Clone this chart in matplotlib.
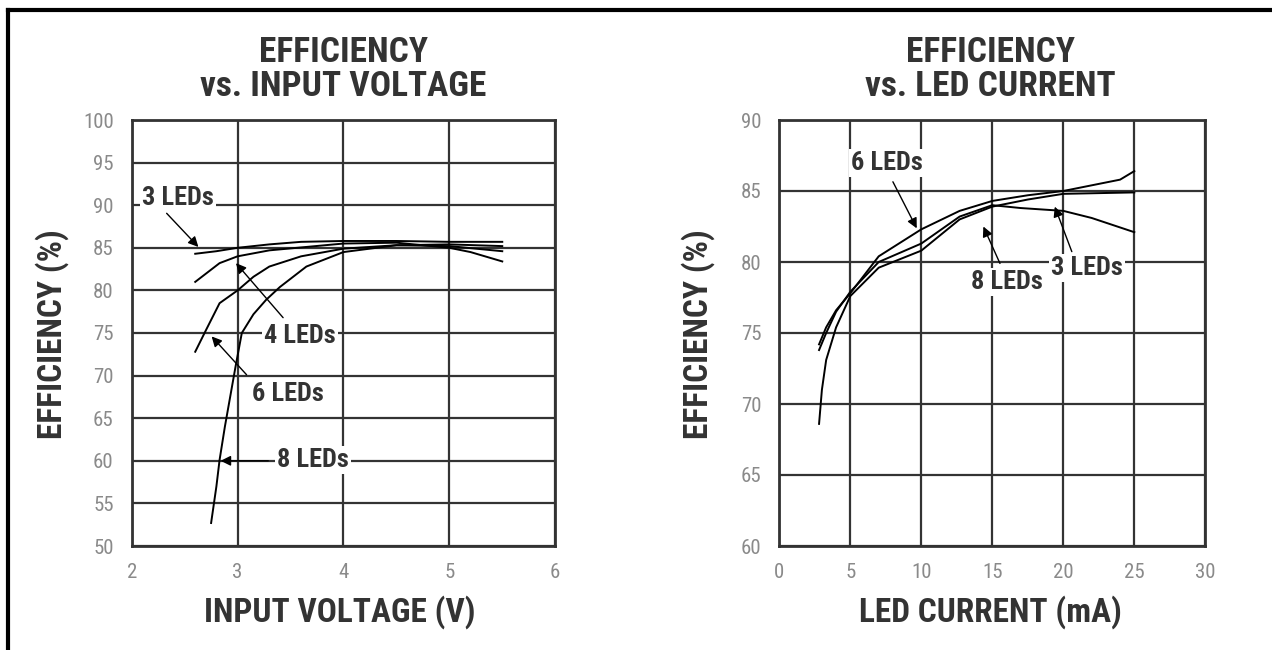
import matplotlib
matplotlib.use("Agg")
import matplotlib.pyplot as plt
from matplotlib import font_manager

# pick a condensed sans that is installed
installed = {f.name for f in font_manager.fontManager.ttflist}
candidates = ['Roboto Condensed', 'Archivo Narrow', 'PT Sans Narrow', 'Fira Sans Condensed',
              'IBM Plex Sans Condensed', 'Liberation Sans Narrow', 'Roboto']
narrow = next(c for c in candidates if c in installed)
plt.rcParams['font.family'] = [narrow, 'DejaVu Sans']

# efficiency vs input voltage (V, %)
vin_3led = [2.6, 2.8, 3.0, 3.3, 3.6, 4.0, 4.5, 5.0, 5.5]
eff_vin_3led = [84.3, 84.6, 85.0, 85.4, 85.7, 85.8, 85.8, 85.7, 85.7]
vin_4led = [2.6, 2.83, 3.0, 3.3, 3.65, 4.0, 4.5, 5.0, 5.2, 5.5]
eff_vin_4led = [81.0, 83.2, 84.0, 84.7, 85.1, 85.5, 85.6, 85.0, 84.5, 83.4]
vin_6led = [2.6, 2.7, 2.83, 3.0, 3.15, 3.3, 3.6, 4.0, 4.5, 5.0, 5.5]
eff_vin_6led = [72.8, 75.3, 78.5, 80.0, 81.6, 82.8, 84.0, 84.9, 85.3, 85.2, 84.6]
vin_8led = [2.75, 2.8, 2.83, 2.88, 2.93, 2.98, 3.04, 3.15, 3.27, 3.4, 3.65, 4.0, 4.5, 5.0, 5.5]
eff_vin_8led = [52.7, 57.0, 60.1, 64.0, 67.5, 71.0, 75.0, 77.2, 78.9, 80.4, 82.8, 84.5, 85.3, 85.4, 85.2]

# efficiency vs LED current (mA, %)
iled_3led = [2.8, 3.3, 4.0, 5.0, 7.0, 10.0, 12.7, 15.0, 17.0, 20.0, 22.0, 25.0]
eff_i_3led = [73.8, 75.0, 76.5, 77.9, 80.0, 81.3, 83.2, 84.0, 83.8, 83.6, 83.1, 82.1]
iled_6led = [2.8, 3.3, 4.0, 5.0, 7.0, 10.0, 12.7, 15.0, 17.5, 20.0, 22.5, 24.0, 25.0]
eff_i_6led = [74.2, 75.4, 76.6, 77.8, 80.4, 82.3, 83.6, 84.3, 84.7, 85.0, 85.5, 85.8, 86.4]
iled_8led = [2.8, 3.0, 3.3, 4.0, 5.0, 7.0, 10.0, 12.7, 15.0, 17.5, 20.0, 25.0]
eff_i_8led = [68.6, 71.0, 73.1, 75.4, 77.6, 79.6, 80.8, 83.0, 83.9, 84.4, 84.8, 84.9]

vin_ticks = [2, 3, 4, 5, 6]
eff_vin_ticks = list(range(50, 101, 5))
iled_ticks = [0, 5, 10, 15, 20, 25, 30]
eff_i_ticks = list(range(60, 91, 5))

W, H = 1272, 650
fig = plt.figure(figsize=(W / 100, H / 100), dpi=100)

# page border (top and left only)
fig.add_artist(plt.Line2D([8 / W, 1], [1 - 10 / H, 1 - 10 / H], color='black', lw=3))
fig.add_artist(plt.Line2D([8 / W, 8 / W], [0, 1 - 10 / H], color='black', lw=3))

ax1 = fig.add_axes([131.7 / W, 1 - 546 / H, 423.5 / W, 426 / H])
ax2 = fig.add_axes([779.3 / W, 1 - 546 / H, 426 / W, 426 / H])

text_kw = dict(fontsize=19, fontweight='bold', color='#333333', ha='center', va='center',
               bbox=dict(facecolor='white', edgecolor='none', pad=1.5), zorder=5)
arrow_kw = dict(arrowstyle='-|>', lw=1.0, color='black', mutation_scale=15, shrinkA=0, shrinkB=0)


def style(ax, xt, yt):
    ax.set_xlim(xt[0], xt[-1])
    ax.set_ylim(yt[0], yt[-1])
    ax.set_xticks(xt)
    ax.set_yticks(yt)
    ax.grid(True, color='#333333', lw=1.6)
    ax.set_axisbelow(True)
    for s in ax.spines.values():
        s.set_color('#333333')
        s.set_linewidth(2)
    ax.tick_params(length=0, labelsize=15, labelcolor='#8a8a8a')
    ax.tick_params(axis='y', pad=13)
    ax.tick_params(axis='x', pad=12)


style(ax1, vin_ticks, eff_vin_ticks)
style(ax2, iled_ticks, eff_i_ticks)

for x, y in [(vin_3led, eff_vin_3led), (vin_4led, eff_vin_4led),
             (vin_6led, eff_vin_6led), (vin_8led, eff_vin_8led)]:
    ax1.plot(x, y, color='black', lw=1.4, zorder=3)

for x, y in [(iled_3led, eff_i_3led), (iled_6led, eff_i_6led), (iled_8led, eff_i_8led)]:
    ax2.plot(x, y, color='black', lw=1.4, zorder=3)

# left chart labels
ax1.text(2.44, 90.9, '3 LEDs', **text_kw)
ax1.annotate('', xy=(2.63, 85.1), xytext=(2.33, 89.05), arrowprops=arrow_kw)
ax1.text(3.59, 74.65, '4 LEDs', **text_kw)
ax1.annotate('', xy=(2.985, 83.2), xytext=(3.43, 76.8), arrowprops=arrow_kw)
ax1.text(3.48, 67.8, '6 LEDs', **text_kw)
ax1.annotate('', xy=(2.755, 74.6), xytext=(3.085, 70.1), arrowprops=arrow_kw)
ax1.text(3.71, 60.1, '8 LEDs', **text_kw)
ax1.annotate('', xy=(2.84, 60.0), xytext=(3.29, 60.0), arrowprops=arrow_kw)

# right chart labels
ax2.text(7.56, 86.95, '6 LEDs', **text_kw)
ax2.annotate('', xy=(9.68, 82.37), xytext=(8.0, 85.65), arrowprops=arrow_kw)
ax2.text(16.0, 78.6, '8 LEDs', **text_kw)
ax2.annotate('', xy=(14.37, 82.5), xytext=(15.54, 79.9), arrowprops=arrow_kw)
ax2.text(21.65, 79.56, '3 LEDs', **text_kw)
ax2.annotate('', xy=(19.4, 83.9), xytext=(20.6, 80.73), arrowprops=arrow_kw)

head_kw = dict(fontsize=25.5, fontweight='bold', color='#333333', ha='center', va='center')
fig.text(343 / W, 1 - 53 / H, 'EFFICIENCY', **head_kw)
fig.text(343 / W, 1 - 86.5 / H, 'vs. INPUT VOLTAGE', **head_kw)
fig.text(990 / W, 1 - 53 / H, 'EFFICIENCY', **head_kw)
fig.text(990 / W, 1 - 86.5 / H, 'vs. LED CURRENT', **head_kw)

lab_kw = dict(fontsize=24, fontweight='bold', color='#333333', ha='center', va='center')
fig.text(340 / W, 1 - 611.7 / H, 'INPUT VOLTAGE (V)', **lab_kw)
fig.text(990 / W, 1 - 611.7 / H, 'LED CURRENT (mA)', **lab_kw)
fig.text(52 / W, 1 - 334 / H, 'EFFICIENCY (%)', rotation=90, **lab_kw)
fig.text(698 / W, 1 - 334 / H, 'EFFICIENCY (%)', rotation=90, **lab_kw)

fig.savefig('out.png', dpi=100, facecolor='white')
